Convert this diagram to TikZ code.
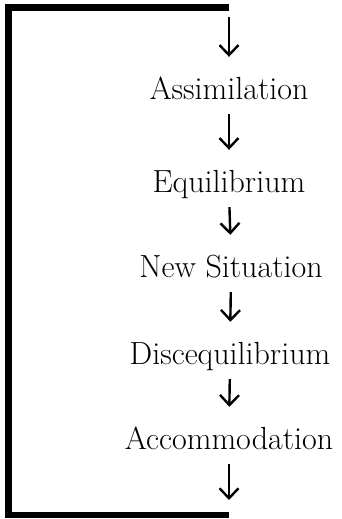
\documentclass[tikz,border=0pt]{standalone}
\usepackage{tikz}
\usetikzlibrary{arrows.meta,positioning}

\tikzset{
  stage/.style={anchor=base, inner sep=0pt, text height=22pt, text depth=0pt,
    font=\fontsize{32}{38}\selectfont},
  flow/.style={line width=2.4pt, -{Straight Barb[length=10pt,width=19pt]},
    shorten <=14pt, shorten >=21pt},
  frame/.style={line width=6.5pt, line join=miter}
}

\begin{document}
\begin{tikzpicture}[x=1pt,y=1pt]
  \useasboundingbox (0,0) rectangle (341,519);
  % loop back
  \coordinate (top) at (229,511.5);
  \coordinate (bot) at (229,4);
  \draw[frame] (bot) -- (8.5,4) |- (top);
  % stages
  \node[stage] (assim) at (229,419) {Assimilation};
  \node[stage] (equil) at (229,326) {Equilibrium};
  \node[stage] (newsit) at (231,241) {New Situation};
  \node[stage] (disequil) at (230,154) {Discequilibrium};
  \node[stage] (accom) at (229,69) {Accommodation};
  % arrows
  \draw[flow, shorten <=10pt] (top) -- (assim.north);
  \draw[flow] (assim.south) -- (equil.north);
  \draw[flow] (equil.south) -- (newsit.north);
  \draw[flow] (newsit.south) -- (disequil.north);
  \draw[flow] (disequil.south) -- (accom.north);
  \draw[flow, shorten >=15pt] (accom.south) -- (bot);
\end{tikzpicture}
\end{document}
